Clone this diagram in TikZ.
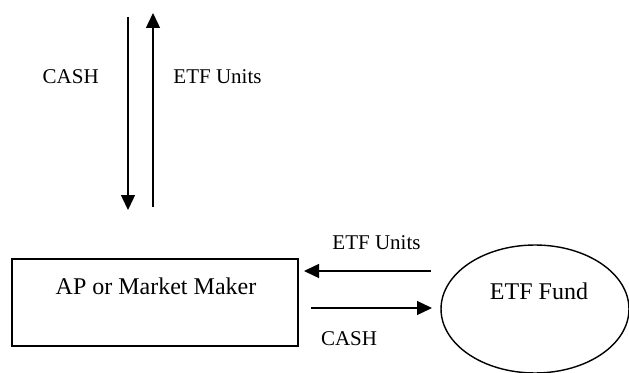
\documentclass[tikz,border=0pt]{standalone}
\usepackage{fontspec}
\setmainfont{Liberation Serif}
\usetikzlibrary{arrows.meta,shapes.geometric}
\begin{document}
\begin{tikzpicture}[x=0.02cm, y=0.02cm, line width=0.8pt, >={Triangle[length=0.3cm,width=0.28cm]},
  party node/.style={rectangle,draw,minimum width=5.72cm,minimum height=1.74cm,inner sep=0pt},
  fund node/.style={ellipse,draw,minimum width=3.76cm,minimum height=2.56cm,inner sep=0pt},
  flow label/.style={font=\fontsize{11.95}{14}\selectfont,inner sep=0pt}]
\useasboundingbox (0,0) rectangle (629,372);
\node [party node](mm) at (155,69.5) {};
\node [fund node](fund) at (535,63) {};
\begin{scope}[every node/.style={font=\fontsize{13.66}{16}\selectfont,inner sep=0pt}]
\node (mmtext) at (156,86) {AP or Market Maker};
\node (fundtext) at (539,81) {ETF Fund};
\end{scope}
% free ends of the flows
\coordinate (cashtop) at (128,355);
\coordinate (cashbot) at (128,162);
\coordinate (unitbot) at (153,165);
\coordinate (unittop) at (153,359);
\coordinate (unitfrom) at (431,101);
\coordinate (unitto) at (304,101);
\coordinate (cashfrom) at (311,64);
\coordinate (cashto) at (432,64);
\path [->]
    (cashtop) edge (cashbot)
    (unitbot) edge (unittop)
    (unitfrom) edge (unitto)
    (cashfrom) edge (cashto)
         ;
\node [flow label](cashup) at (70.7,295.3) {CASH};
\node [flow label](unitsup) at (217.5,295) {ETF Units};
\node [flow label](unitsmid) at (376.5,129) {ETF Units};
\node [flow label](cashlow) at (349,33) {CASH};
\end{tikzpicture}
\end{document}
